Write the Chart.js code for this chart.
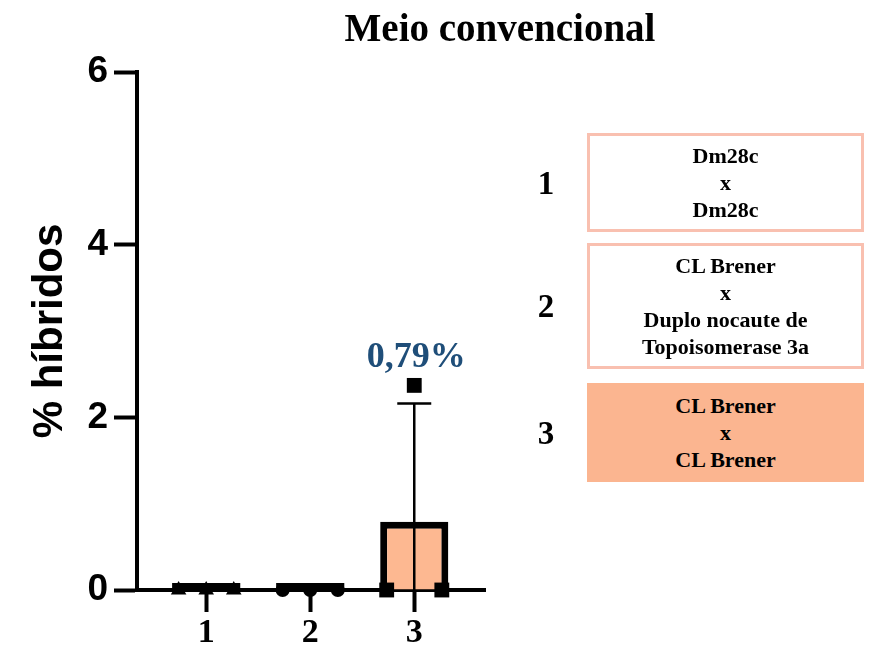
<!DOCTYPE html>
<html>
<head>
<meta charset="utf-8">
<script src="https://cdn.jsdelivr.net/npm/chart.js@4/dist/chart.umd.min.js"></script>
<style>
  html, body { margin: 0; padding: 0; background: #fff; }
  #wrap { position: relative; width: 879px; height: 651px; overflow: hidden; }
  #c { position: absolute; left: 0; top: 0; }
  .title { position: absolute; left: 250px; width: 500px; top: 5px; text-align: center;
           font: bold 39px "Liberation Serif", serif; color: #000; }
  .num { position: absolute; left: 520px; width: 52px; text-align: center;
         font: bold 33px "Liberation Serif", serif; color: #000; line-height: 34px; }
  .box { position: absolute; left: 587px; width: 277px; box-sizing: border-box;
         border: 3px solid #F9C0B0; display: flex; align-items: center; justify-content: center;
         text-align: center; font: bold 22px/27px "Liberation Serif", serif; color: #000; }
  .box.filled { background: #FBB590; border-color: #FBB590; }
</style>
</head>
<body>
<div id="wrap">
  <canvas id="c" width="879" height="651"></canvas>
  <div class="title">Meio convencional</div>
</div>
<script>
// Groups on the x axis and their tick labels
const groups = [1, 2, 3];
const tickLabels = ['1', '2', '3'];
// Mean and SD of % híbridos per group
const means = [0, 0, 0.79];
const sds = [0, 0, 1.37];
// Individual replicates per group
const rep1 = [0, 0, 0];
const rep2 = [0, 0, 0];
const rep3 = [0, 2.37, 0];
// y axis ticks
const yTicks = [0, 2, 4, 6];
// Legend: crosses for each group
const crossNames = [
  ['Dm28c', 'x', 'Dm28c'],
  ['CL Brener', 'x', 'Duplo nocaute de', 'Topoisomerase 3a'],
  ['CL Brener', 'x', 'CL Brener']
];
const labeledGroup = 2;

// Legend layout (top, height of each box)
const boxLayout = [[133, 99], [243, 126], [383, 99]];
const wrap = document.getElementById('wrap');
crossNames.forEach((lines, i) => {
  const [top, h] = boxLayout[i];
  const box = document.createElement('div');
  box.className = 'box' + (i === 2 ? ' filled' : '');
  box.style.top = top + 'px';
  box.style.height = h + 'px';
  box.innerHTML = '<div>' + lines.join('<br>') + '</div>';
  wrap.appendChild(box);
  const num = document.createElement('div');
  num.className = 'num';
  num.textContent = tickLabels[i];
  num.style.top = (top + h / 2 - 17) + 'px';
  wrap.appendChild(num);
});

const jitter = [-0.265, 0, 0.265];
const pts = (arr, g) => arr.map((v, j) => ({ x: g + jitter[j], y: v }));

// Zero-height means, error bars and the value label
const extras = {
  id: 'extras',
  afterDatasetDraw(chart, args) {
    if (args.index !== 0) return;
    const ctx = chart.ctx;
    const xs = chart.scales.x, ys = chart.scales.y;
    const meta = chart.getDatasetMeta(0);
    ctx.save();
    meta.data.forEach((bar, i) => {
      const w = bar.width;
      const cx = xs.getPixelForValue(groups[i]);
      if (means[i] === 0) {
        ctx.fillStyle = '#000';
        ctx.fillRect(cx - w / 2, ys.getPixelForValue(0) - 7, w, 9);
      }
      if (sds[i] > 0) {
        const top = ys.getPixelForValue(means[i] + sds[i]);
        const bot = ys.getPixelForValue(Math.max(0, means[i] - sds[i]));
        ctx.strokeStyle = '#000';
        ctx.lineWidth = 2.5;
        ctx.beginPath();
        ctx.moveTo(cx, bot); ctx.lineTo(cx, top);
        ctx.moveTo(cx - 17, top); ctx.lineTo(cx + 17, top);
        ctx.stroke();
      }
    });
    ctx.restore();
  },
  afterDatasetsDraw(chart) {
    const ctx = chart.ctx;
    const xs = chart.scales.x, ys = chart.scales.y;
    const i = labeledGroup;
    const maxRep = Math.max(...rep3);
    ctx.save();
    ctx.font = 'bold 36px "Liberation Serif", serif';
    ctx.fillStyle = '#1F4E79';
    ctx.textAlign = 'center';
    ctx.textBaseline = 'middle';
    ctx.fillText(means[i].toFixed(2).replace('.', ',') + '%',
      xs.getPixelForValue(groups[i]) + 2, ys.getPixelForValue(maxRep) - 28);
    ctx.restore();
  }
};

new Chart(document.getElementById('c'), {
  type: 'bar',
  data: {
    datasets: [
      {
        type: 'bar',
        data: means.map((m, i) => ({ x: groups[i], y: m })),
        backgroundColor: '#FDB891',
        borderColor: '#000',
        borderWidth: 7,
        borderSkipped: 'bottom',
        categoryPercentage: 1,
        barPercentage: 0.655,
        order: 10
      },
      { type: 'scatter', data: pts(rep1, 1), pointStyle: 'triangle', pointRadius: 9,
        backgroundColor: '#000', borderWidth: 0, clip: false, order: 1 },
      { type: 'scatter', data: pts(rep2, 2), pointStyle: 'circle', pointRadius: 7,
        backgroundColor: '#000', borderWidth: 0, clip: false, order: 1 },
      { type: 'scatter', data: pts(rep3, 3), pointStyle: 'rect', pointRadius: 10.5,
        backgroundColor: '#000', borderWidth: 0, clip: false, order: 1 }
    ]
  },
  options: {
    responsive: false,
    animation: false,
    layout: { padding: { left: 0, top: 72, right: 394, bottom: 0 } },
    plugins: { legend: { display: false }, tooltip: { enabled: false } },
    scales: {
      x: {
        type: 'linear',
        offset: false,
        min: 0.335, max: 3.68,
        afterBuildTicks: (s) => { s.ticks = groups.map(v => ({ value: v })); },
        afterFit: (s) => { s.height = 61; },
        ticks: {
          callback: (v) => tickLabels[groups.indexOf(v)],
          font: { family: '"Liberation Serif", serif', size: 34, weight: 'bold' },
          color: '#000', padding: 1, maxRotation: 0, autoSkip: false
        },
        grid: { offset: false, drawOnChartArea: false, tickLength: 22, tickWidth: 4, tickColor: '#000' },
        border: { width: 4, color: '#000' }
      },
      y: {
        min: 0, max: 6,
        afterBuildTicks: (s) => { s.ticks = yTicks.map(v => ({ value: v })); },
        afterFit: (s) => { s.width = 137; },
        ticks: {
          font: { family: '"Liberation Sans", Arial, sans-serif', size: 37, weight: 'bold' },
          color: '#000', padding: 6
        },
        grid: { drawOnChartArea: false, tickLength: 23, tickWidth: 4, tickColor: '#000' },
        border: { width: 4, color: '#000' },
        title: {
          display: true, text: '% híbridos', color: '#000',
          font: { family: '"Liberation Sans", Arial, sans-serif', size: 42, weight: 'bold' },
          padding: { top: 25, bottom: 0 }
        }
      }
    }
  },
  plugins: [extras]
});
</script>
</body>
</html>
